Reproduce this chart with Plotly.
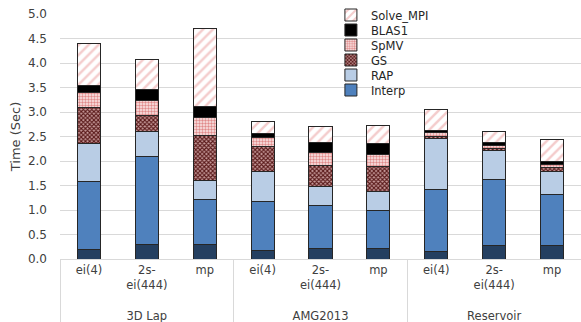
import plotly.graph_objects as go

groups = ["3D Lap"] * 3 + ["AMG2013"] * 3 + ["Reservoir"] * 3
methods = ["ei(4)", "2s-<br>ei(444)", "mp"] * 3

other = [0.20, 0.29, 0.29, 0.18, 0.22, 0.21, 0.15, 0.27, 0.27]
interp = [1.38, 1.81, 0.93, 1.00, 0.88, 0.77, 1.26, 1.36, 1.04]
rap = [0.77, 0.51, 0.39, 0.61, 0.37, 0.39, 1.04, 0.58, 0.47]
gs = [0.75, 0.32, 0.91, 0.50, 0.43, 0.51, 0.06, 0.05, 0.08]
spmv = [0.29, 0.31, 0.37, 0.19, 0.28, 0.26, 0.07, 0.05, 0.07]
blas1 = [0.15, 0.21, 0.23, 0.09, 0.19, 0.21, 0.04, 0.06, 0.06]
solve_mpi = [0.86, 0.62, 1.59, 0.24, 0.33, 0.38, 0.43, 0.23, 0.45]

group_labels = ["<br>" + g for g in groups]
x = [group_labels, methods]
font = "DejaVu Sans, Verdana, sans-serif"
edge = dict(color="#262626", width=1)

fig = go.Figure()
fig.add_bar(x=x, y=other, name="Other", showlegend=False,
            marker=dict(color="#243f60", line=edge))
fig.add_bar(x=x, y=interp, name="Interp", legend="legend6",
            marker=dict(color="#4f81bd", line=edge))
fig.add_bar(x=x, y=rap, name="RAP", legend="legend5",
            marker=dict(color="#b9cde5", line=edge))
fig.add_bar(x=x, y=gs, name="GS", legend="legend4",
            marker=dict(color="white", line=edge,
                        pattern=dict(shape="x", fgcolor="#5a1a1a", bgcolor="#c99d9d",
                                     size=3, solidity=0.6, fillmode="replace")))
fig.add_bar(x=x, y=spmv, name="SpMV", legend="legend3",
            marker=dict(color="white", line=edge,
                        pattern=dict(shape=".", fgcolor="#e08a8a", bgcolor="#fbeaea",
                                     size=3, solidity=0.5, fillmode="replace")))
fig.add_bar(x=x, y=blas1, name="BLAS1", legend="legend2",
            marker=dict(color="#000000", line=edge))
fig.add_bar(x=x, y=solve_mpi, name="Solve_MPI", legend="legend",
            marker=dict(color="white", line=edge,
                        pattern=dict(shape="/", fgcolor="#f4cccc", bgcolor="white",
                                     size=7, solidity=0.35, fillmode="replace")))

legend_rows = ["legend", "legend2", "legend3", "legend4", "legend5", "legend6"]
legend_style = dict(x=0.52, xanchor="left", yanchor="middle",
                    bgcolor="rgba(0,0,0,0)", itemwidth=30,
                    font=dict(size=11.5, color="#262626"))

fig.update_layout(
    barmode="stack",
    bargap=0.6,
    width=581, height=322,
    margin=dict(l=60, r=0, t=14, b=63),
    paper_bgcolor="white", plot_bgcolor="white",
    font=dict(family=font, size=12, color="#404040"),
    yaxis=dict(range=[0, 5], dtick=0.5, tickformat=".1f",
               showgrid=True, gridcolor="#d9d9d9", gridwidth=1,
               zeroline=False, showline=False, automargin=False,
               ticklabelstandoff=12, tickfont=dict(size=12),
               title=dict(text="Time (Sec)", font=dict(size=13), standoff=4)),
    xaxis=dict(type="multicategory", showline=True, linecolor="#d9d9d9",
               showdividers=True, dividercolor="#d9d9d9", dividerwidth=1,
               automargin=False, tickfont=dict(size=11.5)),
)
for i, name in enumerate(legend_rows):
    fig.update_layout({name: dict(legend_style, y=1 - (15 + 15 * i - 14) / 245)})

fig.write_html("out.html", config={"displayModeBar": False},
               post_script="document.body.style.margin='0';")
